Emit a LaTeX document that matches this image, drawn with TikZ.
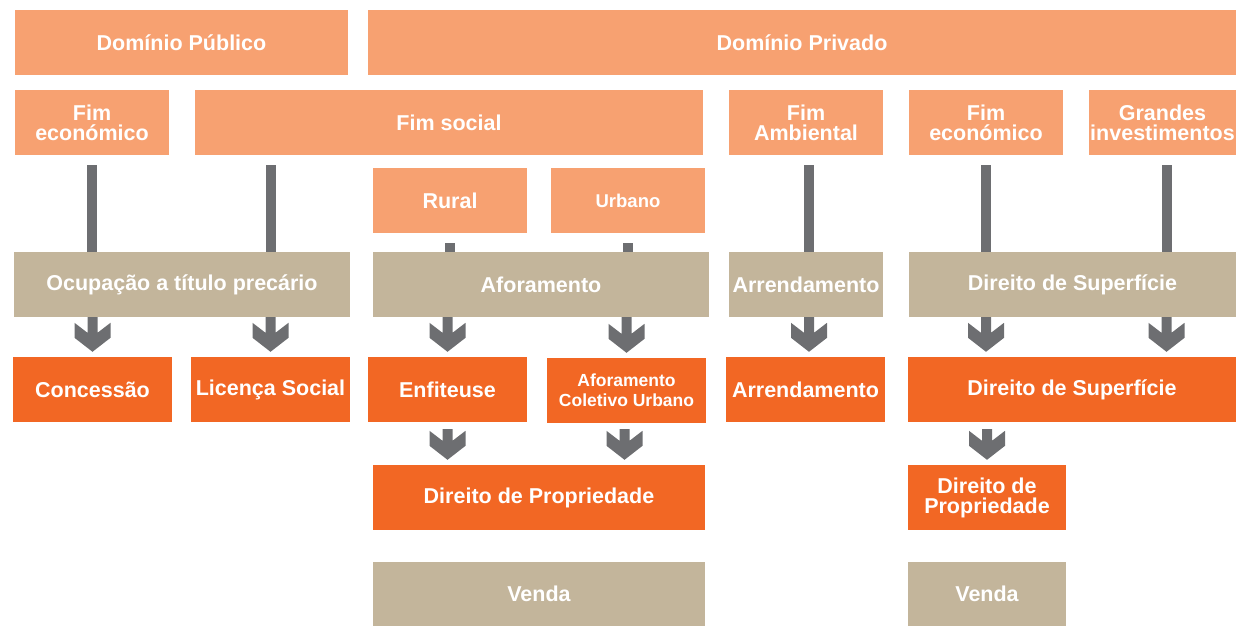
\documentclass[tikz,border=0pt]{standalone}
\usepackage{fontspec}
\setmainfont{Liberation Sans}
\usetikzlibrary{calc}
\definecolor{lightorange}{HTML}{F7A171}
\definecolor{darkorange}{HTML}{F26724}
\definecolor{sandbeige}{HTML}{C3B59B}
\definecolor{arrowgray}{HTML}{6D6E71}
\tikzset{
  box/.style={rectangle, inner sep=0pt, minimum height=65pt, text=white,
    align=center, font=\fontsize{21.5}{20}\selectfont\bfseries},
  light/.style={box, fill=lightorange},
  dark/.style={box, fill=darkorange},
  sand/.style={box, fill=sandbeige},
  smalltxt/.style={font=\fontsize{18.5}{20}\selectfont\bfseries},
  tinytxt/.style={font=\fontsize{17.5}{20}\selectfont\bfseries},
  bar/.style={draw=arrowgray, line width=10pt},
  chev/.style={fill=arrowgray, to path={
    let \p1=(\tikztostart), \p2=(\tikztotarget) in
    (\x1-5pt,\y1) -- (\x1-5pt,\y2+24pt) -- (\x1-18pt,\y2+34pt)
    -- (\x1-18pt,\y2+19pt) -- (\x1,\y2+5pt) -- (\x1+18pt,\y2+19pt)
    -- (\x1+18pt,\y2+34pt) -- (\x1+5pt,\y2+24pt) -- (\x1+5pt,\y1) -- cycle}},
}
\begin{document}
\begin{tikzpicture}[x=1pt,y=-1pt]
  \clip (0,0) rectangle (1236,626);

  % domains
  \node [light, minimum width=333pt, minimum height=64pt] (dpub) at (181.5,42.5) {Domínio Público};
  \node [light, minimum width=868pt, minimum height=64pt] (dpriv) at (802,42.5) {Domínio Privado};

  % purposes
  \node [light, minimum width=154pt] (fec1) at (92,122.5) {Fim\\económico};
  \node [light, minimum width=508pt] (fsoc) at (449,122.5) {Fim social};
  \node [light, minimum width=154pt] (famb) at (806,122.5) {Fim\\Ambiental};
  \node [light, minimum width=154pt] (fec2) at (986,122.5) {Fim\\económico};
  \node [light, minimum width=147pt] (ginv) at (1162.5,122.5) {Grandes\\investimentos};
  \node [light, minimum width=154pt] (rur) at (450,200.5) {Rural};
  \node [light, smalltxt, minimum width=154pt] (urb) at (628,200.5) {Urbano};

  % instruments
  \node [sand, minimum width=336pt] (ocup) at (182,284.5) {Ocupação a título precário};
  \node [sand, minimum width=336pt] (afor) at (541,284.5) {Aforamento};
  \node [sand, minimum width=154pt] (arr4) at (806,284.5) {Arrendamento};
  \node [sand, minimum width=327pt] (dsup4) at (1072.5,284.5) {Direito de Superfície};

  % rights
  \node [dark, minimum width=159pt] (conc) at (92.5,389.5) {Concessão};
  \node [dark, minimum width=159pt] (lic) at (270.5,389.5) {Licença Social};
  \node [dark, minimum width=159pt] (enf) at (447.5,389.5) {Enfiteuse};
  \node [dark, tinytxt, minimum width=159pt] (acu) at (626.5,390.5) {Aforamento\\Coletivo Urbano};
  \node [dark, minimum width=159pt] (arr5) at (805.5,389.5) {Arrendamento};
  \node [dark, minimum width=328pt] (dsup5) at (1072,389.5) {Direito de Superfície};

  \node [dark, minimum width=332pt] (dprop) at (539,497.5) {Direito de Propriedade};
  \node [dark, minimum width=158pt] (dpropr) at (987,497.5) {Direito de\\Propriedade};

  \node [sand, minimum width=332pt, minimum height=64pt] (venda) at (539,594) {Venda};
  \node [sand, minimum width=158pt, minimum height=64pt] (vendar) at (987,594) {Venda};

  % bars
  \draw [bar] ([yshift=-10pt]fec1.south) -- (ocup.north -| fec1);
  \draw [bar] ([yshift=-10pt]fsoc.south -| lic) -- (ocup.north -| lic);
  \draw [bar] ([yshift=-10pt]rur.south) -- (afor.north -| rur);
  \draw [bar] ([yshift=-10pt]urb.south) -- (afor.north -| urb);
  \draw [bar] ([xshift=3pt,yshift=-10pt]famb.south) -- ([xshift=3pt]arr4.north -| famb);
  \draw [bar] ([yshift=-10pt]fec2.south) -- (dsup4.north -| fec2);
  \draw [bar] ([xshift=4pt,yshift=-10pt]ginv.south) -- ([xshift=4pt]dsup4.north -| ginv);

  % arrows
  \path [chev] (ocup.south -| conc) to (conc.north);
  \path [chev] (ocup.south -| lic) to (lic.north);
  \path [chev] (afor.south -| enf) to (enf.north);
  \path [chev] (afor.south -| acu) to (acu.north);
  \path [chev] ([xshift=3pt]arr4.south) to (arr5.north);
  \path [chev] (dsup4.south -| fec2) to (dsup5.north);
  \path [chev] ([xshift=4pt]dsup4.south -| ginv) to (dsup5.north);

  \path [chev] ([yshift=-7pt]enf.south) to (dprop.north);
  \path [chev] ([xshift=-2pt,yshift=-6pt]acu.south) to (dprop.north);
  \path [chev] ([yshift=-7pt]dsup5.south -| dpropr) to (dpropr.north);
\end{tikzpicture}
\end{document}
